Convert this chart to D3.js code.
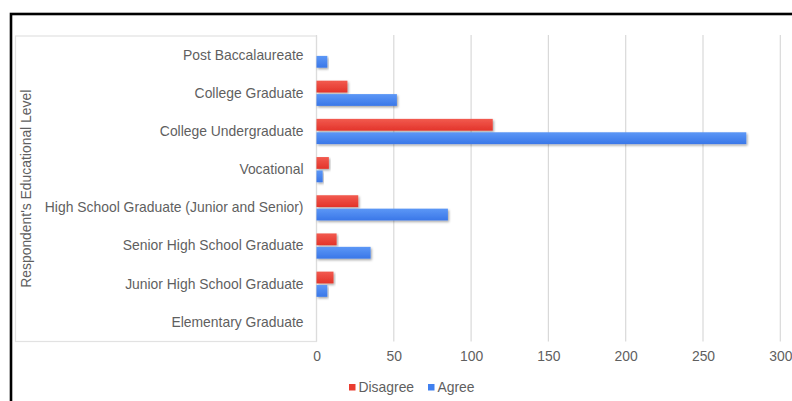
<!DOCTYPE html>
<html>
<head>
<meta charset="utf-8">
<script src="https://cdn.jsdelivr.net/npm/d3@7"></script>
<style>
  html, body { margin: 0; padding: 0; background: #fff; }
  svg { display: block; font-family: "Liberation Sans", Arial, sans-serif; }
</style>
</head>
<body>
<svg id="chart" width="792" height="401"></svg>
<script>
// Respondents' educational level vs. agreement
const categories = [
  "Post Baccalaureate",
  "College Graduate",
  "College Undergraduate",
  "Vocational",
  "High School Graduate (Junior and Senior)",
  "Senior High School Graduate",
  "Junior High School Graduate",
  "Elementary Graduate"
];
const seriesNames = ["Disagree", "Agree"];
const disagree = [0, 20, 114, 8, 27, 13, 11, 0];
const agree = [7, 52, 278, 4, 85, 35, 7, 0];
const xTicks = [0, 50, 100, 150, 200, 250, 300];
const colors = { Disagree: "#ea3c30", Agree: "#4080f0" };

const FS = 13.9;
const TEXT = "#5f5f5f";

const svg = d3.select("#chart");
const defs = svg.append("defs");

// soft shadow under bars
const shadow = defs.append("filter").attr("id", "barShadow")
  .attr("x", "-5%").attr("y", "-30%").attr("width", "115%").attr("height", "180%");
shadow.append("feDropShadow")
  .attr("dx", 1.2).attr("dy", 1.5).attr("stdDeviation", 1.1)
  .attr("flood-color", "#000").attr("flood-opacity", 0.35);

// slight vertical gradient on bars
const grads = { Disagree: ["#f25a4f", "#e3342a"], Agree: ["#5c97f6", "#3a77e8"] };
Object.entries(grads).forEach(([k, [c0, c1]]) => {
  const g = defs.append("linearGradient").attr("id", "grad" + k)
    .attr("x1", 0).attr("y1", 0).attr("x2", 0).attr("y2", 1);
  g.append("stop").attr("offset", "0%").attr("stop-color", c0);
  g.append("stop").attr("offset", "100%").attr("stop-color", c1);
});

const plot = { left: 316.5, right: 780.3, top: 36, bottom: 341.5 };

const x = d3.scaleLinear().domain([0, 300]).range([plot.left, plot.right]);
const y = d3.scaleBand().domain(categories).range([plot.top, plot.bottom])
  .paddingInner(0.34).paddingOuter(0.17);
const ySub = d3.scaleBand().domain(seriesNames).range([0, y.bandwidth()]).paddingInner(0.12);

// outer black frame
svg.append("rect")
  .attr("x", 11).attr("y", 14).attr("width", 800).attr("height", 420)
  .attr("fill", "none").attr("stroke", "#000").attr("stroke-width", 2.6);

// label panel frame
svg.append("rect")
  .attr("x", 15.5).attr("y", plot.top).attr("width", plot.left - 15.5)
  .attr("height", plot.bottom - plot.top)
  .attr("fill", "none").attr("stroke", "#e2e2e2").attr("stroke-width", 1.2);

// vertical gridlines
svg.append("g").selectAll("line").data(xTicks).join("line")
  .attr("x1", d => x(d)).attr("x2", d => x(d))
  .attr("y1", plot.top - 1).attr("y2", plot.bottom)
  .attr("stroke", d => d === 0 ? "#dcdcdc" : "#d9d9d9").attr("stroke-width", 1.2);

// x tick labels
const xAxis = d3.axisBottom(x).tickValues(xTicks).tickSize(0).tickPadding(0);
const xg = svg.append("g").attr("transform", `translate(0, ${plot.bottom + 10})`).call(xAxis);
xg.select(".domain").remove();
xg.selectAll("text").attr("font-size", FS).attr("fill", TEXT)
  .attr("font-family", "Liberation Sans, Arial, sans-serif");

// category labels
const yAxis = d3.axisLeft(y).tickSize(0).tickPadding(13);
const yg = svg.append("g").attr("transform", `translate(${plot.left}, 0)`).call(yAxis);
yg.select(".domain").remove();
yg.selectAll("text").attr("font-size", FS).attr("fill", TEXT)
  .attr("font-family", "Liberation Sans, Arial, sans-serif");

// bars
const rows = categories.map((c, i) => ({ c, Disagree: disagree[i], Agree: agree[i] }));
const groups = svg.append("g").selectAll("g").data(rows).join("g")
  .attr("transform", d => `translate(0, ${y(d.c)})`);
groups.selectAll("rect")
  .data(d => seriesNames.map(s => ({ s, v: d[s] })).filter(e => e.v > 0))
  .join("rect")
  .attr("x", x(0))
  .attr("y", e => ySub(e.s))
  .attr("width", e => x(e.v) - x(0))
  .attr("height", ySub.bandwidth())
  .attr("fill", e => `url(#grad${e.s})`)
  .attr("filter", "url(#barShadow)");

// y axis title
svg.append("text")
  .attr("transform", `translate(31, ${(plot.top + plot.bottom) / 2}) rotate(-90)`)
  .attr("text-anchor", "middle")
  .attr("font-size", FS).attr("fill", TEXT)
  .text("Respondent's Educational Level");

// legend
const legend = svg.append("g").attr("transform", "translate(349, 387)");
const legendItems = [{ s: "Disagree", x: 0 }, { s: "Agree", x: 79 }];
const li = legend.selectAll("g").data(legendItems).join("g")
  .attr("transform", d => `translate(${d.x}, 0)`);
li.append("rect").attr("x", 0).attr("y", -3).attr("width", 6.5).attr("height", 6.5)
  .attr("fill", d => colors[d.s]);
li.append("text").attr("x", 9.5).attr("y", 0).attr("dy", "0.36em")
  .attr("font-size", FS).attr("fill", TEXT).text(d => d.s);
</script>
</body>
</html>
